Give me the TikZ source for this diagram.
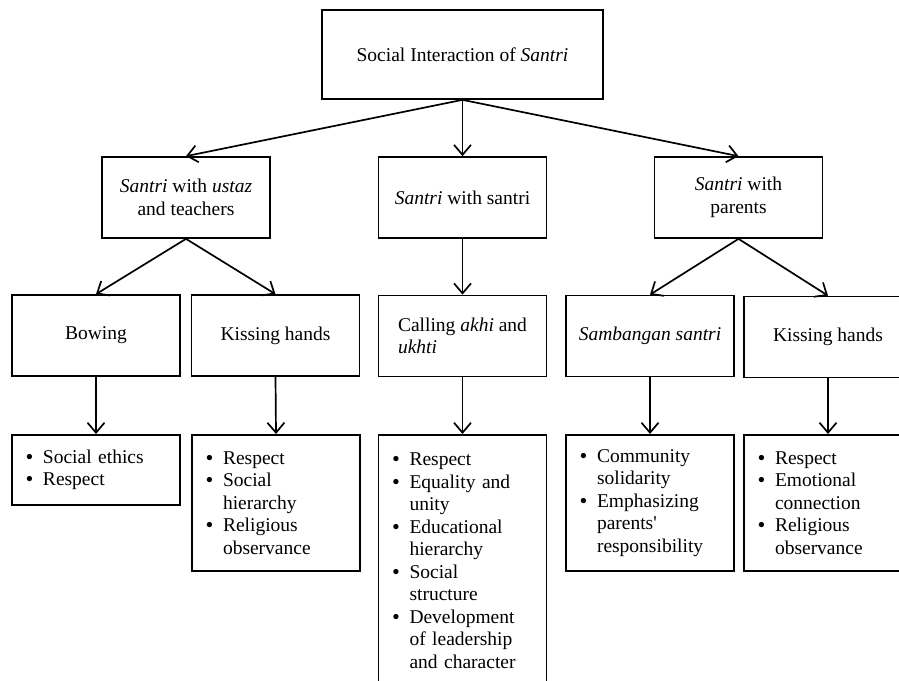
\documentclass[tikz,border=0pt]{standalone}
\usepackage{fontspec}
\setmainfont{Liberation Serif}
\usetikzlibrary{arrows.meta}
\newcommand{\bul}{\makebox[17pt][l]{\textbf{\textbullet}}}
\newcommand{\ind}{\hspace*{17pt}}

\begin{document}
\begin{tikzpicture}[x=1pt, y=-1pt,
    every node/.style={font=\fontsize{19.5pt}{22.5pt}\selectfont},
    box/.style={draw, line width=1.7pt, minimum width=168pt, minimum height=81pt, align=center, inner sep=4pt},
    lst/.style={draw, line width=1.7pt, anchor=north, text width=140pt, inner xsep=14pt, inner ysep=4pt, align=left},
    arr/.style={line width=1.7pt, -{Straight Barb[length=10pt,width=17pt]}}]
    \useasboundingbox (0,0) rectangle (899,680);
    \clip (0,0) rectangle (899,680);
    % top
    \node[box, minimum width=281pt, minimum height=89pt] (soc) at (462.5,54.5) {Social Interaction of \textit{Santri}};
    % second row
    \node[box] (ust) at (186,197.5) {\textit{Santri} with \textit{ustaz}\\and teachers};
    \node[box] (san) at (462.5,197.5) {\textit{Santri} with santri};
    \node[box] (par) at (738.5,197.5) {\textit{Santri} with\\parents};
    % third row
    \node[box] (bow) at (96,335.5) {Bowing};
    \node[box] (khu) at (275.5,335.5) {Kissing hands};
    \node[box, align=left] (cal) at (462.5,336) {Calling \textit{akhi} and\\\textit{ukhti}};
    \node[box] (sam) at (650,336) {\textit{Sambangan santri}};
    \node[box] (khp) at (828,337) {Kissing hands};
    % lists
    \node[lst, minimum height=70pt] (bowl) at (96,434) {\bul Social ethics\\\bul Respect};
    \node[lst, minimum height=136pt] (khul) at (276,434) {\bul Respect\\\bul Social\\\ind hierarchy\\\bul Religious\\\ind observance};
    \node[lst, minimum height=252pt] (call) at (462.5,434) {\bul Respect\\\bul Equality and\\\ind unity\\\bul Educational\\\ind hierarchy\\\bul Social\\\ind structure\\\bul Development\\\ind of leadership\\\ind and character};
    \node[lst, minimum height=136pt] (saml) at (650,434) {\bul Community\\\ind solidarity\\\bul Emphasizing\\\ind parents\textquotesingle\\\ind responsibility};
    \node[lst, minimum height=136pt] (khpl) at (828,434) {\bul Respect\\\bul Emotional\\\ind connection\\\bul Religious\\\ind observance};
    % arrows
    \foreach \a/\b in {soc/ust, soc/san, soc/par, ust/bow, ust/khu, san/cal, par/sam, par/khp,
                       bow/bowl, khu/khul, cal/call, sam/saml, khp/khpl}
        \draw[arr] (\a.south) -- (\b.north);
\end{tikzpicture}
\end{document}
